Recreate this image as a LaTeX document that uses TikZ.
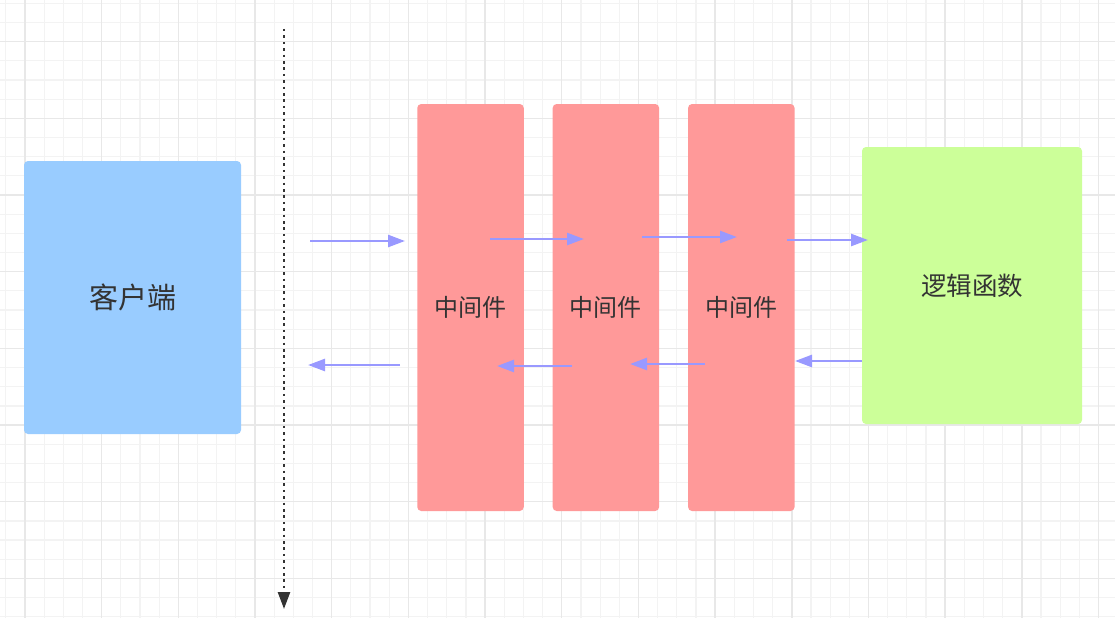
\documentclass[tikz,border=0pt]{standalone}
\usepackage{fontspec}
\newfontfamily\cjk{Noto Sans CJK SC}
\usetikzlibrary{arrows.meta,positioning}
\definecolor{clientblue}{HTML}{99CCFF}
\definecolor{mwred}{HTML}{FF9999}
\definecolor{logicgreen}{HTML}{CCFF99}
\definecolor{flowblue}{HTML}{9999FF}
\definecolor{darkline}{HTML}{333333}
\definecolor{minorgrid}{HTML}{F3F3F3}
\definecolor{majorgrid}{HTML}{E8E8E8}

\begin{document}
\begin{tikzpicture}[x=1pt,y=-1pt,>=Latex]
  \tikzstyle{box}=[rounded corners=4pt,inner sep=0pt,text=darkline,font=\cjk\fontsize{24}{28}\selectfont]
  \tikzstyle{mw}=[box,fill=mwred,minimum width=106.5pt,minimum height=407pt]
  \tikzstyle{flow}=[draw=flowblue,line width=2.5pt,-{Triangle[length=17pt,width=12pt]}]
  \useasboundingbox (0,0) rectangle (1115,618);
  \fill[white] (0,0) rectangle (1115,618);
  % background grid
  \foreach \i in {0,...,57} \draw[minorgrid,line width=1.2pt] ({5.83+19.17*\i},0) -- ++(0,618);
  \foreach \i in {0,...,32} \draw[minorgrid,line width=1.2pt] (0,{3.33+19.17*\i}) -- ++(1115,0);
  \foreach \i in {0,...,14} \draw[majorgrid,line width=1.6pt] ({25+76.67*\i},0) -- ++(0,618);
  \foreach \i in {0,...,7} \draw[majorgrid,line width=1.6pt] (0,{41.67+76.67*\i}) -- ++(1115,0);

  \node[box,fill=clientblue,minimum width=217pt,minimum height=273pt,font=\cjk\fontsize{29}{34}\selectfont] (client) at (132.5,297.5) {客户端};
  \node[mw] (mwA) at (470.5,307.5) {中间件};
  \node[mw,right=28.5pt of mwA] (mwB) {中间件};
  \node[mw,right=28.5pt of mwB] (mwC) {中间件};
  \node[box,fill=logicgreen,minimum width=220pt,minimum height=277pt,font=\cjk\fontsize{25.5}{30}\selectfont] (logic) at (972,285.5) {逻辑函数};

  % divider
  \coordinate (divtop) at (284,29);
  \coordinate (divbot) at (284,609);
  \draw[darkline,line width=2.5pt,dash pattern=on 2.5pt off 3.9pt,-{Triangle[length=17pt,width=12pt]}] (divtop) -- (divbot);

  % request path
  \coordinate (req0) at (310,241);
  \coordinate (req1) at (405,241);
  \coordinate (req2) at (490,239);
  \coordinate (req3) at (584,239);
  \coordinate (req4) at (642,237);
  \coordinate (req5) at (737,237);
  \coordinate (req6) at (787,240);
  \coordinate (req7) at (868,240);
  \draw[flow] (req0) -- (req1);
  \draw[flow] (req2) -- (req3);
  \draw[flow] (req4) -- (req5);
  \draw[flow] (req6) -- (req7);

  % response path
  \coordinate (res0) at (862,361);
  \coordinate (res1) at (795,361);
  \coordinate (res2) at (705,364);
  \coordinate (res3) at (630,364);
  \coordinate (res4) at (572,366);
  \coordinate (res5) at (497,366);
  \coordinate (res6) at (400,365);
  \coordinate (res7) at (308,365);
  \draw[flow] (res0) -- (res1);
  \draw[flow] (res2) -- (res3);
  \draw[flow] (res4) -- (res5);
  \draw[flow] (res6) -- (res7);
\end{tikzpicture}
\end{document}
